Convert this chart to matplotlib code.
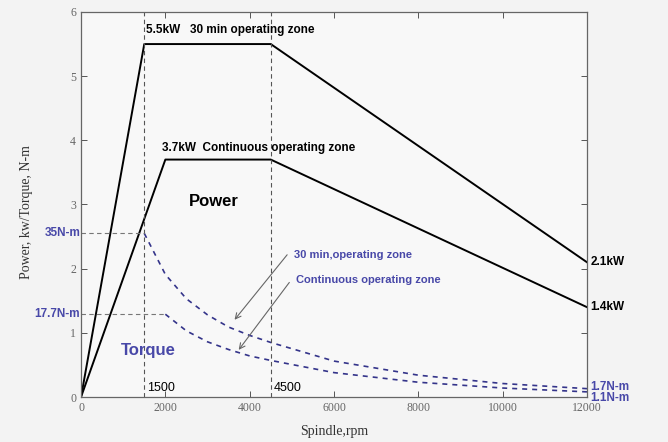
import matplotlib
matplotlib.use('Agg')
import matplotlib.pyplot as plt

# power curves (kW) vs spindle speed (rpm)
speed_30min = [0, 1500, 4500, 12000]
power_30min = [0, 5.5, 5.5, 2.1]
speed_cont = [0, 2000, 4500, 12000]
power_cont = [0, 3.7, 3.7, 1.4]

# torque curves in plot units
torque_speed_30min = [1500, 2000, 2500, 3000, 3500, 4000, 4500, 6000, 8000, 10000, 12000]
torque_30min = [2.55, 1.91, 1.53, 1.28, 1.09, 0.96, 0.85, 0.56, 0.34, 0.21, 0.13]
torque_speed_cont = [2000, 2500, 3000, 3500, 4000, 4500, 6000, 8000, 10000, 12000]
torque_cont = [1.29, 1.03, 0.86, 0.74, 0.64, 0.57, 0.38, 0.23, 0.14, 0.08]

torque_ref = [2.55, 1.29]
torque_ref_speed = [1500, 2000]
torque_ref_labels = ['35N-m', '17.7N-m']
marker_speeds = [1500, 4500]

navy = '#34348a'
blue = '#4848a8'
sans = 'Liberation Sans'
serif = 'Liberation Serif'


def main():
    fig = plt.figure(figsize=(6.68, 4.42), dpi=100, facecolor='#f3f3f3')
    ax = fig.add_axes([0.1213, 0.1018, 0.7574, 0.8711], facecolor='#f8f8f8')

    ax.plot(speed_30min, power_30min, color='black', lw=1.4)
    ax.plot(speed_cont, power_cont, color='black', lw=1.4)
    ax.plot(torque_speed_30min, torque_30min, color=navy, lw=1.2, ls=(0, (3, 3)))
    ax.plot(torque_speed_cont, torque_cont, color=navy, lw=1.2, ls=(0, (3, 3)))

    for s in marker_speeds:
        ax.plot([s, s], [0, 6], color='#555555', lw=0.8, ls=(0, (4, 3)))
        ax.text(s + 60, 0.04, str(s), fontsize=9, family=sans, color='black', va='bottom')
    for t, s, lab in zip(torque_ref, torque_ref_speed, torque_ref_labels):
        ax.plot([0, s], [t, t], color='#777777', lw=0.8, ls=(0, (4, 3)))
        ax.text(-20, t, lab, fontsize=8.5, family=sans, color=blue, fontweight='bold',
                ha='right', va='center', clip_on=False)

    ax.text(1530, 5.62, '5.5kW   30 min operating zone', fontsize=8.5, family=sans,
            fontweight='bold', va='bottom')
    ax.text(1920, 3.78, '3.7kW  Continuous operating zone', fontsize=8.5, family=sans,
            fontweight='bold', va='bottom')
    ax.text(2550, 3.05, 'Power', fontsize=12, family=sans, fontweight='bold', va='center')
    ax.text(950, 0.73, 'Torque', fontsize=12, family=sans, fontweight='bold',
            color=blue, va='center')

    ax.text(5050, 2.22, '30 min,operating zone', fontsize=8, family=sans,
            fontweight='bold', color=blue, va='center')
    ax.text(5100, 1.83, 'Continuous operating zone', fontsize=8, family=sans,
            fontweight='bold', color=blue, va='center')
    ax.annotate('', xy=(3600, 1.17), xytext=(4930, 2.25),
                arrowprops=dict(arrowstyle='->', color='#666666', lw=0.8))
    ax.annotate('', xy=(3700, 0.70), xytext=(4980, 1.82),
                arrowprops=dict(arrowstyle='->', color='#666666', lw=0.8))

    for y, lab, col in [(2.1, '2.1kW', 'black'), (1.4, '1.4kW', 'black'),
                        (0.16, '1.7N-m', blue), (-0.02, '1.1N-m', blue)]:
        ax.text(12080, y, lab, fontsize=8.5, family=sans, fontweight='bold', color=col,
                va='center', clip_on=False)

    ax.set_xlim(0, 12000)
    ax.set_ylim(0, 6)
    ax.set_xticks(range(0, 12001, 2000))
    ax.set_yticks(range(0, 7))
    ax.tick_params(direction='in', top=True, right=True, length=4, width=0.7,
                   colors='#555555', labelsize=8.5, labelcolor='#666666')
    for lbl in ax.get_xticklabels() + ax.get_yticklabels():
        lbl.set_fontfamily(serif)
    for sp in ax.spines.values():
        sp.set_color('#666666')
        sp.set_linewidth(0.9)

    ax.set_xlabel('Spindle,rpm', fontsize=10, family=serif, color='#333333', labelpad=8)
    ax.set_ylabel('Power, kw/Torque, N-m', fontsize=10, family=serif,
                  color='#333333', labelpad=40)
    ax.yaxis.set_label_coords(-0.095, 0.48)

    fig.savefig('out.png', dpi=100, facecolor=fig.get_facecolor())


if __name__ == '__main__':
    main()
